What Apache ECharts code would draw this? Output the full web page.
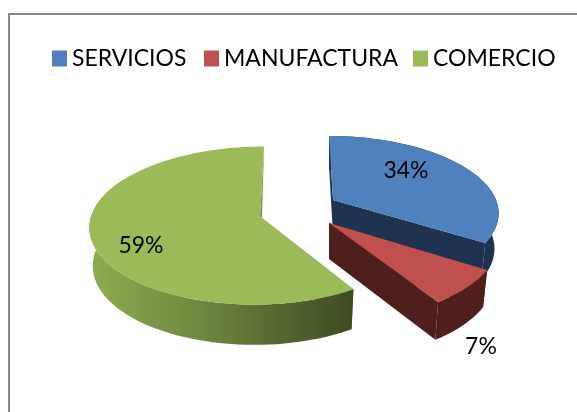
<!DOCTYPE html>
<html><head><meta charset="utf-8">
<style>html,body{margin:0;padding:0;background:#fff}#c{width:577px;height:412px}</style>
<script src="https://cdn.jsdelivr.net/npm/echarts@6/dist/echarts.min.js"></script>
</head><body><div id="c"></div>
<script>
const categories = ['SERVICIOS', 'MANUFACTURA', 'COMERCIO'];
const shares = [34, 7, 59];

const FONT = 'Lato, Carlito, "Open Sans", sans-serif';
const colors = ['#4F81BD', '#C0504D', '#9BBB59'];
const wallColors = ['#1D3350', '#4F1F1D', '#7A9745'];
const legendLeft = [52, 204, 413];
// projection of each exploded slice
const views = [
  {cx:333, cy:200, rxL:163, rxR:163, ry:73.6, k:0.15, a:4.5, depth:35, shrink:0.975, notch:null, rimTo:360, label:[73,-29]},
  {cx:329, cy:223, rxL:166.6, rxR:166.6, ry:79, k:0.184, a:3.4, depth:36, shrink:0.975, notch:null, rimTo:360, label:[152,124]},
  {cx:260, cy:216.5, rxL:169, rxR:164.7, ry:78, k:0.114, a:-4.5, depth:38, shrink:0.98, notch:[2,1], rimTo:300, label:[-119,29]}
];
const total = shares.reduce((s, v) => s + v, 0);

function project(view, deg, radius, drop) {
  const t = deg * Math.PI / 180;
  const u = Math.sin(t) * radius, v = -Math.cos(t) * radius;
  const d = 1 - view.k * v;
  const rx = u < 0 ? view.rxL : view.rxR;
  const scale = drop ? view.shrink : 1;
  return [view.cx + scale * (rx * u + view.a * v) / d,
          view.cy + view.ry * v / d + drop * (1 + 0.06 * v)];
}
function arc(view, from, to, drop) {
  const pts = [], n = Math.max(8, Math.ceil((to - from) / 2));
  for (let i = 0; i <= n; i++) pts.push(project(view, from + (to - from) * i / n, 1, drop));
  return pts;
}
function renderSlice(params, api) {
  const i = params.seriesIndex, view = views[i];
  const before = shares.slice(0, i).reduce((s, v) => s + v, 0);
  const from = before / total * 360, to = (before + api.value(0)) / total * 360;
  const d = view.depth;
  const apexT = project(view, 0, 0, 0), apexB = project(view, 0, 0, d);
  const topArc = arc(view, from, to, 0), botArc = arc(view, from, to, d);
  const rimEnd = Math.min(to, view.rimTo);
  const rimTop = arc(view, from, rimEnd, 0), rimBot = arc(view, from, rimEnd, d);
  const wallFill = i === 2
    ? new echarts.graphic.LinearGradient(88, 0, 356, 0, [
        {offset:0, color:'#8FAD50'}, {offset:0.4, color:'#6F8A40'},
        {offset:0.8, color:'#4E5E2B'}, {offset:1, color:'#3D4A20'}], true)
    : wallColors[i];
  const poly = (points, fill) => ({type:'polygon', silent:true, shape:{points}, style:{fill}});
  const endTop = topArc[topArc.length - 1], endBot = botArc[botArc.length - 1];
  const endWall = view.notch
    ? [endTop, apexT, [apexT[0] + view.notch[0], apexT[1] + view.notch[1]]]
    : [endTop, apexT, apexB, endBot];
  const kids = [
    poly([topArc[0], apexT, apexB, botArc[0]], wallColors[i]),
    poly(rimTop.concat(rimBot.slice().reverse()), wallFill),
    poly(endWall, wallColors[i]),
    poly([apexT].concat(topArc), colors[i]),
    {type:'text', silent:true, style:{
      x: view.cx + view.label[0], y: view.cy + view.label[1],
      text: api.value(0) + '%', fill:'#000', font:'23px ' + FONT,
      align:'center', verticalAlign:'middle'}}
  ];
  return {type:'group', children:kids};
}
const chart = echarts.init(document.getElementById('c'), null, {renderer:'canvas'});
chart.setOption({
  animation:false,
  backgroundColor:'#fff',
  legend:categories.map((name, i) => ({
    data:[name], left:legendLeft[i], top:47, padding:0, itemWidth:15, itemHeight:16,
    icon:'rect', selectedMode:false,
    textStyle:{fontFamily:FONT, fontSize:23, color:'#000'}
  })),
  graphic:[{type:'polyline', silent:true,
    shape:{points:[[9,412],[9,14],[577,14]]},
    style:{stroke:'#888', lineWidth:2, fill:null}}],
  series:categories.map((name, i) => ({
    type:'custom', name, coordinateSystem:'none', renderItem:renderSlice,
    itemStyle:{color:colors[i]}, data:[[shares[i]]], z:2+i
  }))
});
</script></body></html>
